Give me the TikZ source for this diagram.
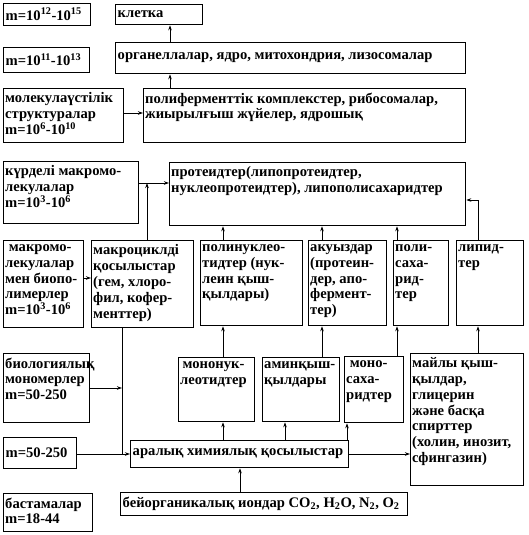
\documentclass[tikz,border=0pt]{standalone}
\usepackage{fontspec}
\setmainfont{Liberation Serif}
\usetikzlibrary{arrows.meta}
\tikzset{
 x=1pt, y=-1pt,
 box/.style={draw, line width=1.3pt, inner sep=0pt},
 txt/.style={inner sep=0pt, align=left, font=\fontsize{14.6}{15.8}\selectfont\bfseries},
 arr/.style={line width=0.9pt, -{Stealth[length=5pt,width=3.5pt]}},
 ln/.style={line width=0.9pt},
}
% box with text from the top
\newcommand\bx[6]{%
 \node[box, minimum width={#4-#2}, minimum height={#5-#3}, anchor=north west] (#1) at (#2,#3) {};
 \node[txt, anchor=north west] (#1t) at ([xshift=2pt,yshift=-4.5pt]#1.north west) {#6};}
% box with one line of text, centred vertically
\newcommand\bxc[6]{%
 \node[box, minimum width={#4-#2}, minimum height={#5-#3}, anchor=north west] (#1) at (#2,#3) {};
 \node[txt, anchor=west] (#1t) at ([xshift=2.5pt,yshift=0.5pt]#1.west) {#6};}
\begin{document}
\begin{tikzpicture}
\useasboundingbox[fill=white] (0,0) rectangle (529,535);
\bxc{m1}{3}{3}{90}{25}{m=10\textsuperscript{12}-10\textsuperscript{15}}
\bxc{m2}{3}{47}{89}{72}{m=10\textsuperscript{11}-10\textsuperscript{13}}
\bx{mol}{3}{88}{123}{142}{молекулаүстілік\\структуралар\\m=10\textsuperscript{6}-10\textsuperscript{10}}
\bxc{kl}{115}{4}{202}{24}{клетка}
\bxc{org}{115}{42}{465}{73}{органеллалар, ядро, митохондрия, лизосомалар}
\bx{poly}{143}{88}{465}{142}{полиферменттік комплекстер, рибосомалар,\\жиырылғыш жүйелер, ядрошық}
\bx{kurd}{3}{161}{138}{223}{күрделі макромо-\\лекулалар\\m=10\textsuperscript{3}-10\textsuperscript{6}}
\bx{prot}{169}{162}{465}{225}{протеидтер(липопротеидтер,\\нуклеопротеидтер), липополисахаридтер}
\bx{mm}{3}{240}{83}{327}{\ макромо-\\лекулалар\\мен биопо-\\лимерлер\\m=10\textsuperscript{3}-10\textsuperscript{6}}
\bx{mc}{91}{240}{193}{327}{макроциклді\\қосылыстар\\(гем, хлоро-\\фил, кофер-\\менттер)}
\bx{pn}{200}{240}{302}{325}{полинуклео-\\тидтер (нук-\\леин қыш-\\қылдары)}
\bx{aq}{308}{240}{386}{325}{акуыздар\\(протеин-\\дер, апо-\\фермент-\\тер)}
\bx{ps}{393}{240}{448}{325}{поли-\\саха-\\рид-\\тер}
\bx{lp}{456}{240}{523}{325}{липид-\\тер}
\bx{bm}{3}{353}{89}{422}{биологиялық\\мономерлер\\m=50-250}
\bx{mn}{178}{357}{254}{421}{\,мононук-\\леотидтер}
\bx{am}{262}{357}{339}{421}{аминқыш-\\қылдары}
\bx{ms}{344}{356}{403}{422}{\ моно-\\саха-\\ридтер}
\bx{ml}{410}{353}{523}{485}{майлы қыш-\\қылдар,\\глицерин\\және басқа\\спирттер\\(холин, инозит,\\сфингазин)}
\bxc{m50}{3}{437}{76}{468}{m=50-250}
\bxc{ar}{130}{440}{348}{467}{аралық химиялық қосылыстар}
\bx{bs}{3}{493}{92}{531}{бастамалар\\m=18-44}
\bxc{bo}{120}{492}{407}{515}{бейорганикалық иондар CO\textsubscript{2}, H\textsubscript{2}O, N\textsubscript{2}, O\textsubscript{2}}
% guide coordinates
\coordinate (c1) at (170,0);
\coordinate (c2) at (147,0);
\coordinate (c3) at (478,0);
\coordinate (c4) at (122,0);
\coordinate (xa) at (223,0);
\coordinate (xb) at (285,0);
\coordinate (xc) at (347,0);
\coordinate (xd) at (322,0);
\coordinate (xe) at (397,0);
\coordinate (xf) at (240,0);
\coordinate (r1) at (0,113);
\coordinate (r2) at (0,183);
\coordinate (r3) at (0,200);
\coordinate (r4) at (0,278);
\coordinate (r5) at (0,454);
\coordinate (r6) at (0,388);
% connectors
\draw[arr] (org.north -| c1) -- (kl.south -| c1);
\draw[arr] (poly.north -| c1) -- (org.south -| c1);
\draw[arr] (mol.east |- r1) -- (poly.west |- r1);
\draw[arr] (kurd.east |- r2) -- (prot.west |- r2);
\draw[arr] (mc.north -| c2) -- (c2 |- r2);
\draw[arr] (pn.north -| xa) -- (prot.south -| xa);
\draw[arr] (aq.north -| xd) -- (prot.south -| xd);
\draw[arr] (ps.north -| xe) -- (prot.south -| xe);
\draw[arr] (lp.north -| c3) |- (prot.east |- r3);
\draw[arr] (mm.east |- r4) -- (mc.west |- r4);
\draw[ln] (mc.south -| c4) -- (c4 |- r5);
\draw[arr] (bm.east |- r6) -- (c4 |- r6);
\draw[arr] (m50.east |- r5) -- (ar.west |- r5);
\draw[arr] (ar.east |- r5) -- (ml.west |- r5);
\draw[arr] (ar.north -| xa) -- (mn.south -| xa);
\draw[arr] (ar.north -| xb) -- (am.south -| xb);
\draw[arr] (ar.north -| xc) -- (ms.south -| xc);
\draw[arr] (mn.north -| xa) -- (pn.south -| xa);
\draw[arr] (am.north -| xd) -- (aq.south -| xd);
\draw[arr] (ms.north -| xe) -- (ps.south -| xe);
\draw[arr] (ml.north -| c3) -- (lp.south -| c3);
\draw[arr] (bo.north -| xf) -- (ar.south -| xf);
\end{tikzpicture}
\end{document}
